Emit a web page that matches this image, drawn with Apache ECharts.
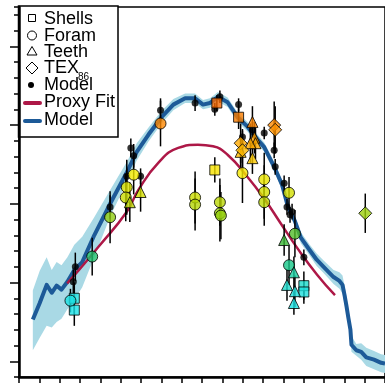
<!DOCTYPE html>
<html><head><meta charset="utf-8">
<script src="https://cdn.jsdelivr.net/npm/echarts@6/dist/echarts.min.js"></script>
<style>html,body{margin:0;padding:0;background:#fff;}#c{width:385px;height:385px;}</style>
</head><body><div id="c"></div>
<script>
// ---- data: [latitude, temperature, error half-width] ----
const shells = [[-62.8,8.0,2.0],[-62.8,6.5,2.0],[7.3,32.8,1.0],[6.3,24.3,1.6],[18.0,31.0,1.5],[50.1,9.6,1.8],[50.1,8.8,1.5]];
const foram = [[-64.7,7.7,1.5],[-54.0,13.3,2.4],[-45.2,18.3,3.3],[-33.6,23.7,2.5],[-37.0,22.1,3.5],[-37.5,20.8,3.0],
  [-20.4,30.2,2.9],[-3.4,20.8,3.3],[-3.4,19.9,3.3],[8.8,20.2,3.0],[8.8,18.8,3.6],[9.3,18.5,3.0],[19.9,23.9,3.8],
  [30.6,23.1,3.4],[30.6,21.5,3.4],[30.6,20.2,3.0],[42.8,21.4,2.0],[45.7,16.2,3.0],[42.8,12.2,2.5]];
const teeth = [[-35.5,20.2,2.5],[-30.2,21.5,2.5],[24.8,30.4,2.0],[25.8,28.4,2.0],[26.3,27.7,2.0],[23.8,27.7,2.5],
  [24.8,25.8,2.0],[19.0,26.6,2.0],[40.4,15.4,2.0],[45.2,11.3,2.0],[41.8,9.7,2.0],[45.7,8.9,2.0],[45.2,7.4,1.5]];
const tex86 = [[19.0,27.7,2.5],[19.9,26.8,2.5],[35.5,30.0,3.0],[36.0,29.4,3.0],[80.3,18.8,2.5]];
const modelPts = [[-62.3,12.0,1.8],[-63.3,10.1,1.5],[-45.2,19.6,1.5],[-35.0,27.1,1.2],[-33.6,26.1,1.5],[-37.0,23.5,1.0],
  [-30.2,23.5,1.0],[-20.4,31.9,1.5],[-3.4,32.8,1.0],[6.3,32.0,0.8],[8.8,33.6,0.8],[18.0,32.6,0.8],[19.9,28.5,1.0],
  [24.8,29.4,1.0],[30.6,29.0,0.8],[35.5,26.8,1.0],[36.0,24.7,1.0],[40.4,22.6,1.0],[41.8,19.6,1.0],[44.3,19.0,1.0],
  [43.3,18.6,1.0],[50.1,13.2,1.0]];

const modelLat = [-83.2,-79.8,-76.4,-73.9,-71.5,-69.1,-66.2,-62.8,-58.9,-53.0,-44.8,-37.0,-32.1,-26.3,-19.9,-14.1,-8.3,-3.4,0.5,3.9,7.8,12.6,17.5,22.4,27.2,30.6,35.5,39.4,42.3,45.7,48.6,53.0,56.4,59.8,64.7,67.6,69.1,70.1,71.0,72.0,73.0,73.5,75.9,78.3,80.8,84.6,88.1,90];
const modelT   = [5.3,7.4,9.7,8.7,9.6,9.1,10.1,11.6,12.6,16.0,20.2,24.0,26.6,28.8,31.0,32.6,33.4,33.4,32.6,32.8,33.6,32.9,31.0,29.8,28.2,27.2,24.7,22.4,19.6,17.8,15.7,14.1,12.9,12.0,10.7,10.2,9.7,8.4,7.1,5.5,4.0,2.1,1.4,1.2,0.5,0.2,-0.2,-0.3];
const bandLow  = [1.4,3.0,4.5,4.3,5.0,5.4,6.6,7.8,9.4,13.2,18.6,22.7,25.5,27.9,30.2,31.9,32.8,32.8,32.0,32.2,33.0,32.3,30.4,29.2,27.6,26.6,24.1,21.8,19.0,17.2,15.0,13.4,12.1,11.2,9.8,9.2,8.6,7.3,6.0,4.5,3.0,1.2,0.7,0.2,-0.6,-1.0,-1.4,-1.5];
const bandHigh = [9.0,11.5,13.2,11.6,12.6,12.2,13.2,14.8,15.8,18.3,21.9,25.3,27.7,29.7,31.8,33.3,34.0,34.0,33.2,33.4,34.2,33.5,31.6,30.4,28.8,27.8,25.3,23.0,20.2,18.4,16.4,14.8,13.7,12.8,11.6,11.3,10.9,9.6,8.3,6.6,5.0,3.2,2.2,2.3,1.7,1.3,0.9,0.8];

const fitLat = [-66.3,-60.5,-50.7,-37.0,-31.2,-21.5,-11.7,-2.0,5.4,12.7,22.4,30.7,38.5,46.8,56.6,65.4];
const fitT   = [9.9,11.6,14.6,19.0,21.8,25.2,27.1,27.5,27.3,26.2,23.4,20.6,17.6,14.4,11.0,8.4];

const yMajorTicks = [0,10,20,30,40];

// ---- chart ----
const chart = echarts.init(document.getElementById('c'), null, {renderer:'canvas'});
const pair = (xs, ys) => xs.map((x,i)=>[x, ys[i]]);
const allErr = [].concat(modelPts, shells, foram, teeth, tex86);
const bandData = modelLat.map((x,i)=>[x, bandLow[i], bandHigh[i]]);
const FONT = '"Liberation Sans", Arial, Helvetica, sans-serif';

function errRender(params, api){
  const x = api.value(0), y = api.value(1), e = api.value(2);
  const p1 = api.coord([x, y + e]), p2 = api.coord([x, y - e]);
  return {type:'line', shape:{x1:p1[0], y1:p1[1], x2:p2[0], y2:p2[1]}, style:{stroke:'#000', lineWidth:1.5}};
}
function bandRender(params, api){
  if (params.dataIndex !== 0) return null;
  const up = bandData.map(d => api.coord([d[0], d[2]]));
  const lo = bandData.slice().reverse().map(d => api.coord([d[0], d[1]]));
  return {type:'polygon', shape:{points: up.concat(lo)}, style:{fill:'#a9d9e5', stroke:'none'}};
}

const option = {
  animation:false,
  backgroundColor:'#fff',
  grid:{left:19, top:7, width:370, height:370, show:true, borderColor:'#000', borderWidth:1.5, backgroundColor:'transparent'},
  xAxis:{type:'value', min:-90, max:90, interval:10,
    axisLine:{show:true, onZero:false, lineStyle:{color:'#000', width:2.5}},
    axisTick:{show:true, length:6, lineStyle:{color:'#000', width:1.5}},
    axisLabel:{show:false}, splitLine:{show:false}},
  yAxis:[
    {type:'value', min:-2, max:45, interval:2,
      axisLine:{show:true, onZero:false, lineStyle:{color:'#000', width:2.5}},
      axisTick:{show:true, length:5, lineStyle:{color:'#000', width:1.5}},
      axisLabel:{show:false}, splitLine:{show:false}},
    {type:'value', min:-2, max:45, position:'left',
      axisLine:{show:false, onZero:false},
      axisTick:{show:true, length:9, customValues:yMajorTicks, lineStyle:{color:'#000', width:1.5}},
      axisLabel:{show:false}, splitLine:{show:false}}
  ],
  visualMap:{type:'continuous', show:false, dimension:1, seriesIndex:[5,6,7,8], min:6, max:33,
    inRange:{color:['#19e3ea','#1ee0dc','#14c88e','#2eb43a','#8acb12','#cddc00','#f6e900','#ffb400','#ff8a00','#f06200']}},
  series:[
    {name:'band', type:'custom', data:bandData, renderItem:bandRender, encode:{x:0, y:[1,2]}, silent:true, z:1},
    {name:'Model', type:'line', data:pair(modelLat, modelT), symbol:'none', lineStyle:{color:'#1d5a98', width:4, join:'round'}, z:2},
    {name:'Proxy Fit', type:'line', data:pair(fitLat, fitT), smooth:true, symbol:'none', lineStyle:{color:'#ad1847', width:2.5}, z:2},
    {name:'errors', type:'custom', data:allErr, renderItem:errRender, encode:{x:0, y:1}, z:3, silent:true},
    {name:'Model points', type:'scatter', data:modelPts, symbol:'circle', symbolSize:7, itemStyle:{color:'#000'}, z:4},
    {name:'Shells', type:'scatter', data:shells, symbol:'rect', symbolSize:10, itemStyle:{borderColor:'#000', borderWidth:1}, z:5},
    {name:'Foram', type:'scatter', data:foram, symbol:'circle', symbolSize:11, itemStyle:{borderColor:'#000', borderWidth:1}, z:5},
    {name:'Teeth', type:'scatter', data:teeth, symbol:'triangle', symbolSize:11, itemStyle:{borderColor:'#000', borderWidth:1}, z:5},
    {name:'TEX86', type:'scatter', data:tex86, symbol:'diamond', symbolSize:13, itemStyle:{borderColor:'#000', borderWidth:1}, z:5}
  ],
  graphic:[{type:'group', z:100, children:[
    {type:'rect', shape:{x:18.5, y:6, width:99.5, height:131}, style:{fill:'#fff', stroke:'#000', lineWidth:1.5}},
    {type:'rect', shape:{x:28.5, y:14.5, width:7, height:7}, style:{fill:'#fff', stroke:'#000', lineWidth:1}},
    {type:'circle', shape:{cx:32, cy:35.5, r:4.5}, style:{fill:'#fff', stroke:'#000', lineWidth:1}},
    {type:'polygon', shape:{points:[[32,46.5],[27,55],[37,55]]}, style:{fill:'#fff', stroke:'#000', lineWidth:1}},
    {type:'polygon', shape:{points:[[32,62],[38,68],[32,74],[26,68]]}, style:{fill:'#fff', stroke:'#000', lineWidth:1}},
    {type:'circle', shape:{cx:31, cy:85, r:3}, style:{fill:'#000'}},
    {type:'line', shape:{x1:25, y1:103, x2:40, y2:103}, style:{stroke:'#ad1847', lineWidth:4, lineCap:'round'}},
    {type:'line', shape:{x1:25, y1:121, x2:40, y2:121}, style:{stroke:'#1d5a98', lineWidth:4, lineCap:'round'}},
    {type:'text', x:44, y:19, style:{text:'Shells', font:'18px '+FONT, fill:'#000', verticalAlign:'middle'}},
    {type:'text', x:44, y:36, style:{text:'Foram', font:'18px '+FONT, fill:'#000', verticalAlign:'middle'}},
    {type:'text', x:44, y:52, style:{text:'Teeth', font:'18px '+FONT, fill:'#000', verticalAlign:'middle'}},
    {type:'text', x:44, y:68, style:{text:'TEX', font:'18px '+FONT, fill:'#000', verticalAlign:'middle'}},
    {type:'text', x:78, y:77, style:{text:'86', font:'10px '+FONT, fill:'#000', verticalAlign:'middle'}},
    {type:'text', x:44, y:85, style:{text:'Model', font:'18px '+FONT, fill:'#000', verticalAlign:'middle'}},
    {type:'text', x:44, y:102, style:{text:'Proxy Fit', font:'18px '+FONT, fill:'#000', verticalAlign:'middle'}},
    {type:'text', x:44, y:120, style:{text:'Model', font:'18px '+FONT, fill:'#000', verticalAlign:'middle'}}
  ]}]
};
chart.setOption(option);
</script></body></html>
